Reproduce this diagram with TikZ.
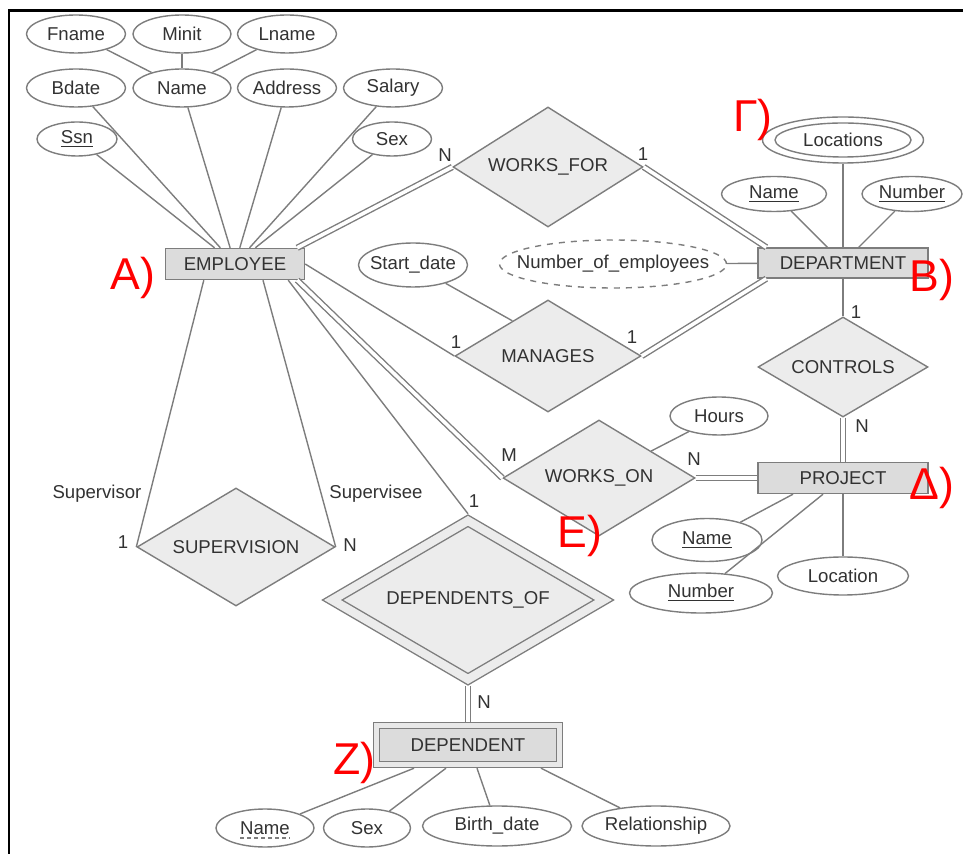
\documentclass[tikz,border=0pt]{standalone}
\usepackage{fontspec}
\setmainfont{Liberation Sans}
\usetikzlibrary{shapes.geometric,calc}

\definecolor{erline}{RGB}{125,125,125}
\definecolor{ertext}{RGB}{50,50,50}
\definecolor{entfill}{RGB}{220,220,220}
\definecolor{entband}{RGB}{232,232,232}
\definecolor{relfill}{RGB}{236,236,236}

\begin{document}
\begin{tikzpicture}[x=0.5pt,y=-0.5pt]

  \tikzstyle{every node}=[font=\fontsize{9.3}{11}\selectfont, text=ertext]

  \tikzset{entity/.style={draw=erline, fill=entfill, line width=0.7pt, inner sep=0pt},
    relation/.style={diamond, aspect=1.6, draw=erline, fill=relfill, line width=0.7pt, inner sep=0pt},
    attr/.style={ellipse, draw=erline, fill=white, line width=0.7pt, inner sep=0pt},
    sz/.style 2 args={minimum width=#1*0.5pt, minimum height=#2*0.5pt},
    conn/.style={draw=erline, line width=0.7pt},
    dbl/.style={double, double distance=1.8pt},
    card/.style={inner sep=0pt},
    tag/.style={text=red, inner sep=0pt, anchor=base west, font=\fontsize{22.3}{26}\selectfont}}

  \useasboundingbox (0,0) rectangle (963,854);

  % Frame
  \draw[line width=1.3pt] (9,854) -- (9,10.5) -- (963,10.5);

  % Entities
  \node[entity, sz={139}{31}] (Employee) at (235,264) {EMPLOYEE};
  \node[entity, sz={170}{30}] (Department) at (843,263) {DEPARTMENT};
  \node[entity, sz={170}{31}] (Project) at (843,478) {PROJECT};
  \node[entity, sz={183}{39}, double=entband, double distance=2.3pt] (Dependent) at (468,745) {DEPENDENT};

  % Relationships
  \node[relation, sz={190}{120}] (Works for) at (548,167) {WORKS\_FOR};
  \node[relation, sz={186}{112}] (Manages) at (548,356) {MANAGES};
  \node[relation, sz={170}{100}] (Controls) at (843,367) {CONTROLS};
  \node[relation, sz={192}{116}] (Works on) at (599,478) {WORKS\_ON};
  \node[relation, sz={198}{118}] (Supervision) at (236,547) {SUPERVISION};
  \node[relation, sz={272}{159}, double=relfill, double distance=4.2pt] (Dependents of) at (468,600) {DEPENDENTS\_OF};

  % Attributes of EMPLOYEE
  \node[attr, sz={99}{38}] (Fname) at (76,34) {Fname};
  \node[attr, sz={98}{38}] (Minit) at (182,34) {Minit};
  \node[attr, sz={99}{38}] (Lname) at (287,34) {Lname};
  \node[attr, sz={99}{38}] (Bdate) at (76,88) {Bdate};
  \node[attr, sz={98}{38}] (Name) at (182,88) {Name};
  \node[attr, sz={99}{38}] (Address) at (287,88) {Address};
  \node[attr, sz={99}{38}] (Salary) at (393,88) {Salary};
  \node[attr, sz={80}{34}] (Ssn) at (77,139) {\underline{Ssn}};
  \node[attr, sz={79}{34}] (Sex) at (392,139) {Sex};

  % Attributes of DEPARTMENT
  \node[attr, sz={161}{46}] (Locations) at (843,140) {Locations};
  \draw[erline, line width=0.7pt] (Locations.center) ellipse [x radius=34pt, y radius=8.5pt];
  \node[attr, sz={105}{35}] (Dept name) at (774,194) {\underline{Name}};
  \node[attr, sz={100}{35}] (Dept number) at (912,194) {\underline{Number}};
  \node[attr, sz={227}{48}, dashed, inner xsep=-12pt] (Num employees) at (613,264) {Number\_of\_employees};
  \node[attr, sz={109}{44}, inner xsep=-6pt] (Start date) at (413,265) {Start\_date};

  % Attributes of PROJECT and WORKS_ON
  \node[attr, sz={98}{38}] (Hours) at (719,416) {Hours};
  \node[attr, sz={110}{43}] (Proj name) at (707,540) {\underline{Name}};
  \node[attr, sz={143}{40}] (Proj number) at (701,593) {\underline{Number}};
  \node[attr, sz={131}{38}] (Location) at (843,576) {Location};

  % Attributes of DEPENDENT
  \node[attr, sz={98}{38}] (Dep name) at (265,828) {Name};
  \draw[erline, dashed, dash pattern=on 2pt off 1.5pt, line width=0.6pt]
    ($(Dep name.center)+(-25,10)$) -- ($(Dep name.center)+(25,10)$);
  \node[attr, sz={87}{38}] (Dep sex) at (367,828) {Sex};
  \node[attr, sz={149}{40}] (Birth date) at (497,826) {Birth\_date};
  \node[attr, sz={148}{40}] (Relationship) at (656,826) {Relationship};

  % Attribute lines
  \foreach \a in {Fname,Minit,Lname}
    \draw[conn] (\a) -- (Name);
  \foreach \a in {Ssn,Bdate,Name,Address,Salary,Sex}
    \draw[conn] (\a) -- (Employee);
  \foreach \a in {Locations,Dept name,Dept number,Num employees}
    \draw[conn] (\a) -- (Department);
  \draw[conn] (Start date) -- ($(Manages.west)!0.62!(Manages.north)$);
  \draw[conn] (Hours) -- (Works on);
  \draw[conn] (Proj name) -- ($(Project.south)+(-50,0)$);
  \draw[conn] (Proj number) -- (Project);
  \draw[conn] (Location) -- (Project);
  \draw[conn] (Dep name) -- ($(Dependent.south)+(-54,3)$);
  \draw[conn] (Dep sex) -- ($(Dependent.south)+(-22,3)$);
  \draw[conn] (Birth date) -- ($(Dependent.south)+(9,3)$);
  \draw[conn] (Relationship) -- ($(Dependent.south)+(73,3)$);

  % Relationship lines
  \draw[conn, dbl] ($(Employee.north east)+(-8,0)$) -- (Works for.west);
  \draw[conn, dbl] (Works for.east) -- ($(Department.north west)+(9,0)$);
  \draw[conn] (Employee.east) -- (Manages.west);
  \draw[conn, dbl] (Manages.east) -- ($(Department.south west)+(9,0)$);
  \draw[conn] (Department) -- (Controls);
  \draw[conn, dbl] (Controls) -- (Project);
  \draw[conn, dbl] ($(Employee.south east)+(-8,0)$) -- (Works on.west);
  \draw[conn, dbl] (Works on) -- (Project);
  \draw[conn] ($(Employee.south west)+(39,0)$) -- (Supervision.west);
  \draw[conn] ($(Employee.south)+(28,0)$) -- (Supervision.east);
  \draw[conn] ($(Employee.south east)+(-17,0)$) -- ($(Dependents of.north)+(0,-6)$);
  \draw[conn, dbl] ($(Dependents of.south)+(0,6)$) -- ($(Dependent.north)+(0,-3)$);

  % Cardinalities and roles
  \node[card] (c1) at (445,155) {N};
  \node[card] (c2) at (643,154) {1};
  \node[card] (c3) at (456,342) {1};
  \node[card] (c4) at (632,337) {1};
  \node[card] (c5) at (856,312) {1};
  \node[card] (c6) at (862,426) {N};
  \node[card] (c7) at (509,455) {M};
  \node[card] (c8) at (694,459) {N};
  \node[card] (c9) at (123,542) {1};
  \node[card] (c10) at (350,545) {N};
  \node[card] (c11) at (474,501) {1};
  \node[card] (c12) at (484,702) {N};
  \node[card] (Supervisor) at (97,494) {Supervisor};
  \node[card] (Supervisee) at (376,494) {Supervisee};

  % Tags
  \node[tag] (tag A) at (110,290) {A)};
  \node[tag] (tag B) at (909,292) {B)};
  \node[tag] (tag G) at (733,132) {Γ)};
  \node[tag] (tag D) at (909,500) {Δ)};
  \node[tag] (tag E) at (557,548) {E)};
  \node[tag] (tag Z) at (333,774) {Z)};

\end{tikzpicture}
\end{document}
